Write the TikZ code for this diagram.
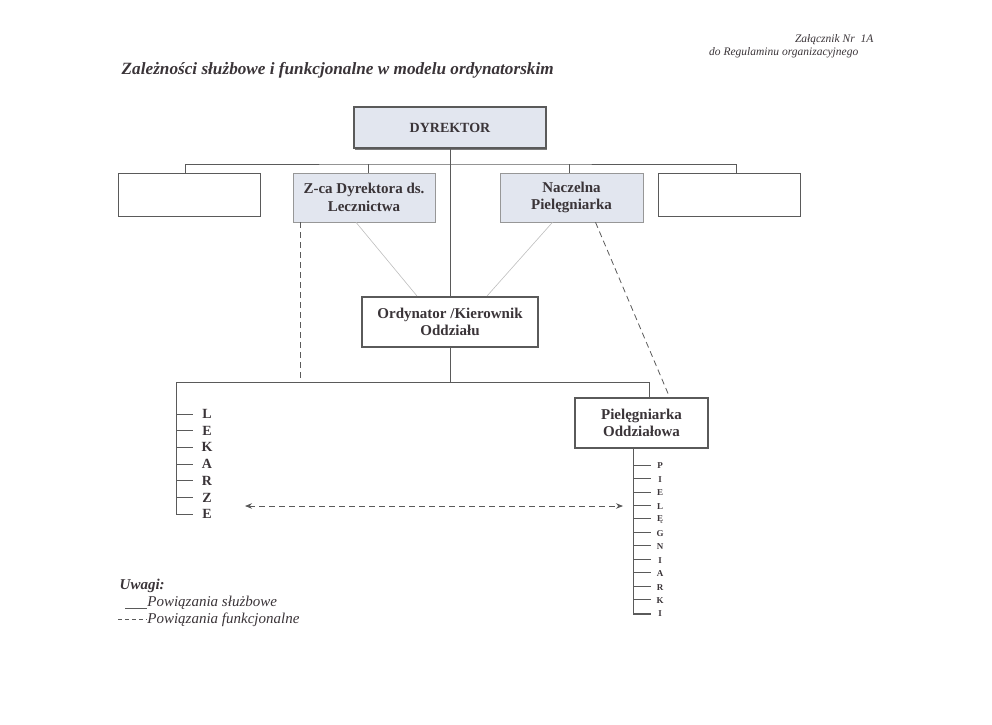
\documentclass[tikz,border=0pt]{standalone}
\usepackage{fontspec}
\setmainfont{Liberation Serif}
\usetikzlibrary{arrows.meta,shadows}

\definecolor{linia}{HTML}{5A5A5A}
\definecolor{jasna}{HTML}{BDBDBD}
\definecolor{wypelnienie}{HTML}{E2E6EF}
\definecolor{tekst}{HTML}{3A3438}

\tikzset{
	ramka/.style={draw=linia, line width=0.9pt, fill=white, inner sep=0pt, align=center, text=tekst,
		font=\bfseries\fontsize{15}{17.5}\selectfont},
	szara/.style={ramka, draw=jasna!80!black, line width=0.6pt, fill=wypelnienie},
	gruba/.style={ramka, line width=2pt},
	litera/.style={inner sep=0pt, text=tekst, font=\bfseries\fontsize{14}{14}\selectfont},
	mala/.style={inner sep=0pt, text=tekst, font=\bfseries\fontsize{9}{9}\selectfont},
	funk/.style={draw=linia, line width=0.8pt, dash pattern=on 6pt off 4pt},
	opis/.style={anchor=west, inner sep=0pt, text=tekst, font=\itshape\fontsize{15}{16}\selectfont},
}

\begin{document}
\begin{tikzpicture}[x=1pt, y=-1pt, line width=0.8pt]
	\useasboundingbox (0,0) rectangle (992,724);

	% naglowek
	\node[anchor=east, text=tekst, font=\itshape\fontsize{11.5}{12}\selectfont] (zal) at (877,40) {Załącznik Nr\ \ 1A};
	\node[anchor=east, text=tekst, font=\itshape\fontsize{11.5}{12}\selectfont] (reg) at (862,53) {do Regulaminu organizacyjnego};
	\node[anchor=west, text=tekst, font=\bfseries\itshape\fontsize{17.2}{20}\selectfont] (tytul) at (118,70) {Zależności służbowe i funkcjonalne w modelu ordynatorskim};

	% gora
	\node[szara, draw=linia, line width=1.6pt, font=\bfseries\fontsize{14}{17}\selectfont,
		drop shadow={shadow xshift=1pt, shadow yshift=-1.5pt, fill=linia, opacity=0.8},
		minimum width=192, minimum height=41] (dyr) at (450,127.5) {DYREKTOR};
	\node[ramka, minimum width=142, minimum height=43] (box1) at (189,194.5) {};
	\node[szara, minimum width=142, minimum height=49] (zca) at (364,197.5) {Z-ca Dyrektora ds.\\Lecznictwa};
	\node[szara, minimum width=143, minimum height=49] (nacz) at (571.5,197.5) {Naczelna\\Pielęgniarka};
	\node[ramka, minimum width=142, minimum height=43] (box4) at (729,194.5) {};

	\coordinate (bar) at (450,164);
	\draw[linia] ([xshift=-4pt]box1.north) |- (bar) -| ([xshift=7pt]box4.north);
	\draw[linia] ([xshift=4pt]zca.north) -- ([xshift=4pt]zca.north |- bar);
	\draw[linia] ([xshift=-2pt]nacz.north) -- ([xshift=-2pt]nacz.north |- bar);

	% ordynator
	\node[gruba, minimum width=176, minimum height=50] (ord) at (450,322) {Ordynator /Kierownik\\Oddziału};
	\draw[linia] (dyr.south) -- (ord.north);
	\draw[jasna, line width=0.6pt] ([xshift=-8pt]zca.south) -- ([xshift=-33pt]ord.north);
	\draw[jasna, line width=0.6pt] ([xshift=-19pt]nacz.south) -- ([xshift=37pt]ord.north);

	% pielegniarka oddzialowa
	\node[gruba, minimum width=133, minimum height=50] (pieo) at (641.5,423) {Pielęgniarka\\Oddziałowa};
	\coordinate (bar2) at (450,382);
	\coordinate (lek) at (176,382);
	\draw[linia] (ord.south) -- (bar2);
	\draw[linia] (lek) -- (bar2) -| ([xshift=8pt]pieo.north);
	\draw[funk] ([xshift=8pt]zca.south west) -- ++(0,160);
	\draw[funk] ([xshift=24pt]nacz.south) -- ([xshift=28pt]pieo.north);

	% lekarze
	\draw[linia] (lek) -- ++(0,132) -- ++(17,0);
	\foreach \l [count=\i from 0] in {L,E,K,A,R,Z,E} {
		\node[litera] (lekarz\i) at (207,414+16.7*\i) {\l};
		\draw[linia] (176,414+16.7*\i) -- ++(17,0);
	}

	% pielegniarki
	\coordinate (piel) at ([xshift=-8.5pt]pieo.south);
	\draw[linia] (piel) -- ++(0,165) -- ++(18,0);
	\foreach \l [count=\i from 0] in {P,I,E,L,Ę,G,N,I,A,R,K,I} {
		\node[mala] (pielegniarka\i) at (660,466+13.45*\i) {\l};
		\draw[linia] (633,465+13.45*\i) -- ++(18,0);
	}

	% wspolpraca
	\coordinate (strzL) at (245,506);
	\coordinate (strzP) at (623,506);
	\draw[funk, {Stealth[length=7pt,width=5.5pt]}-{Stealth[length=7pt,width=5.5pt]}] (strzL) -- (strzP);

	% uwagi
	\node[anchor=west, text=tekst, font=\bfseries\itshape\fontsize{15}{16}\selectfont] (uwagi) at (116,586) {Uwagi:};
	\node[opis] (sluz) at (147,603) {Powiązania służbowe};
	\node[opis] (funkc) at (147,620) {Powiązania funkcjonalne};
	\draw[linia, line width=0.6pt] (125,608) -- (sluz.west |- 0,608);
	\draw[linia, line width=0.6pt, dash pattern=on 4pt off 3pt] (118,619) -- (funkc.west |- 0,619);
\end{tikzpicture}
\end{document}
